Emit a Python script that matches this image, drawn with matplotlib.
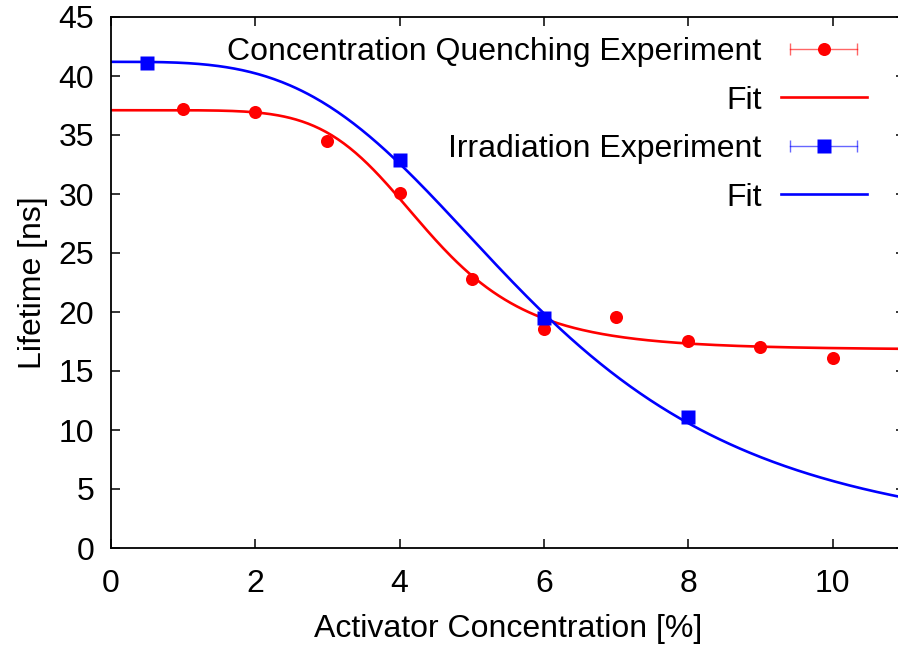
import matplotlib; matplotlib.use('Agg')
import matplotlib.pyplot as plt
from matplotlib.lines import Line2D
from matplotlib.legend_handler import HandlerLine2D, HandlerTuple
import numpy as np

quench_x = [1, 2, 3, 4, 5, 6, 7, 8, 9, 10]
quench_y = [37.2, 36.95, 34.5, 30.05, 22.8, 18.6, 19.6, 17.55, 17.05, 16.1]
irrad_x = [0.5, 4, 6, 8]
irrad_y = [41.1, 32.9, 19.45, 11.1]

# fit curves: tau(c) = tau_inf + (tau0 - tau_inf) / (1 + (c/c0)^p), parameters estimated from the drawn lines
quench_fit = dict(tau0=37.1, tau_inf=16.8, c0=4.375, p=6.0)
irrad_fit = dict(tau0=41.2, tau_inf=0.0, c0=5.88, p=3.45)

labels = ['Concentration Quenching Experiment', 'Fit', 'Irradiation Experiment', 'Fit']
xticks = [0, 2, 4, 6, 8, 10]
yticks = [0, 5, 10, 15, 20, 25, 30, 35, 40, 45]

RED, BLUE = '#ff0000', '#0000ff'


def hill(c, tau0, tau_inf, c0, p):
    return tau_inf + (tau0 - tau_inf) / (1.0 + (c / c0) ** p)


def main():
    plt.rcParams['font.family'] = ['Liberation Sans', 'DejaVu Sans']
    plt.rcParams['font.size'] = 23

    fig = plt.figure(figsize=(8.98, 6.48), dpi=100)
    ax = fig.add_axes([111 / 898, 100 / 648, 11 * 72.15 / 898, 531 / 648])

    xs = np.linspace(0, 11, 400)
    ax.plot(xs, hill(xs, **quench_fit), color=RED, lw=1.9, zorder=2)
    ax.plot(xs, hill(xs, **irrad_fit), color=BLUE, lw=1.9, zorder=2)
    ax.plot(quench_x, quench_y, 'o', color=RED, ms=9.4, mec='none', zorder=3)
    ax.plot(irrad_x, irrad_y, 's', color=BLUE, ms=9.4, mec='none', zorder=4)

    ax.set_xlim(0, 11)
    ax.set_ylim(0, 45)
    ax.set_xticks(xticks)
    ax.set_yticks(yticks)
    ax.tick_params(direction='in', length=6.5, width=1.1, top=True, right=True)
    ax.tick_params(axis='x', pad=15)
    ax.tick_params(axis='y', pad=12)
    for s in ax.spines.values():
        s.set_linewidth(1.3)
    ax.set_xlabel('Activator Concentration [%]', labelpad=11)
    ax.set_ylabel('Lifetime [ns]', labelpad=8)

    # legend samples in gnuplot style
    def exp_handle(color, marker):
        bar = Line2D([], [], color=color, lw=1.0, alpha=0.6, marker='|', ms=9, mew=1.0)
        pt = Line2D([], [], color=color, lw=0, marker=marker, ms=9.4, mec='none')
        return (bar, pt), bar
    qh, qbar = exp_handle(RED, 'o')
    ih, ibar = exp_handle(BLUE, 's')
    handles = [qh, Line2D([], [], color=RED, lw=1.9), ih, Line2D([], [], color=BLUE, lw=1.9)]
    hmap = {tuple: HandlerTuple(ndivide=1), qbar: HandlerLine2D(numpoints=2),
            ibar: HandlerLine2D(numpoints=2)}
    ax.legend(handles, labels, handler_map=hmap, loc='upper right', frameon=False,
              markerfirst=False, numpoints=1, handlelength=2.7, handletextpad=0.6,
              labelspacing=0.58, borderpad=0, borderaxespad=0,
              bbox_to_anchor=(867 / 898, 1 - 37 / 648), bbox_transform=fig.transFigure)

    fig.savefig('out.png', dpi=100)
    plt.close()


if __name__ == '__main__':
    main()
